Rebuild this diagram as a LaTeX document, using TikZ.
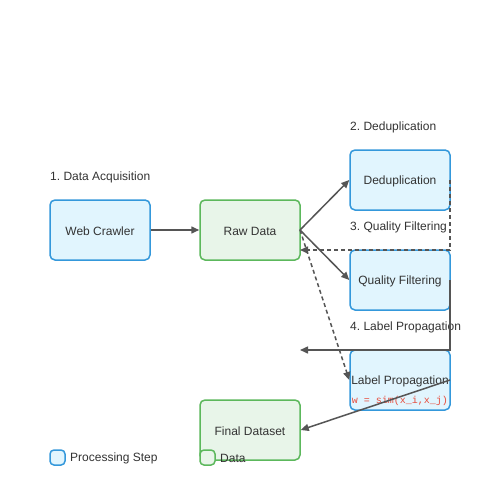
\documentclass[tikz,border=0pt]{standalone}
\usepackage{fontspec}
\setmainfont{Liberation Sans}
\setmonofont{Liberation Mono}
\usetikzlibrary{arrows.meta}
\frenchspacing
\definecolor{procfill}{HTML}{E1F5FE}
\definecolor{procdraw}{HTML}{3498DB}
\definecolor{datafill}{HTML}{E8F5E9}
\definecolor{datadraw}{HTML}{5CB85C}
\definecolor{edgecol}{HTML}{555555}
\definecolor{txtcol}{HTML}{333333}
\definecolor{codecol}{HTML}{E74C3C}
\tikzset{
  procbox/.style={draw=procdraw, fill=procfill, line width=1.5pt, rounded corners=5pt, minimum width=100pt, minimum height=60pt, inner sep=0pt, text=txtcol, font=\fontsize{12}{14}\selectfont},
  databox/.style={draw=datadraw, fill=datafill, line width=1.5pt, rounded corners=5pt, minimum width=100pt, minimum height=60pt, inner sep=0pt, text=txtcol, font=\fontsize{12}{14}\selectfont},
  boxtext/.style={text=txtcol, font=\fontsize{12}{14}\selectfont, inner sep=0pt},
  steplabel/.style={anchor=west, inner sep=0pt, text=txtcol, font=\fontsize{12}{14}\selectfont},
  conn/.style={draw=edgecol, line width=1.5pt, -{Triangle[length=8pt,width=7pt]}},
  dconn/.style={conn, dashed, dash pattern=on 4pt off 3pt},
  legproc/.style={draw=procdraw, fill=procfill, line width=1.5pt, rounded corners=4pt, minimum size=15pt, inner sep=0pt},
  legdata/.style={draw=datadraw, fill=datafill, line width=1.5pt, rounded corners=4pt, minimum size=15pt, inner sep=0pt},
}
\begin{document}
\begin{tikzpicture}[x=1pt,y=-1pt]
\useasboundingbox[fill=white] (0,0) rectangle (500,500);
\node[procbox] (crawler) at (100,230) {};
\node[boxtext] at (100,231) {Web Crawler};
\node[databox] (raw) at (250,230) {};
\node[boxtext] at (250,231) {Raw Data};
\node[procbox] (dedup) at (400,180) {};
\node[boxtext] at (400,181) {Deduplication};
\node[procbox] (qual) at (400,280) {};
\node[boxtext] at (400,281) {Quality Filtering};
\node[procbox] (label) at (400,380) {};
\node[boxtext] (labeltxt) at (400,381) {Label Propagation};
\node[text=codecol, font=\ttfamily\fontsize{10}{12}\selectfont, inner sep=0pt] (code) at (400,401) {w = sim(x\_i,x\_j)};
\node[databox] (final) at (250,430) {};
\node[boxtext] at (250,431) {Final Dataset};

\node[steplabel] (s1) at (50,177) {1. Data Acquisition};
\node[steplabel] (s2) at (350,127) {2. Deduplication};
\node[steplabel] (s3) at (350,227) {3. Quality Filtering};
\node[steplabel] (s4) at (350,327) {4. Label Propagation};

\coordinate (rawA) at (300,230);
\coordinate (rawB) at (300,250);
\coordinate (free) at (300,350);
\coordinate (dedupR) at (450,180);
\coordinate (qualR) at (450,280);
\coordinate (labelR) at (450,380);

\draw[conn] (crawler.east) -- (raw.west);
\draw[conn] (rawA) -- (dedup.west);
\draw[conn] (rawA) -- (qual.west);
\draw[dconn] (rawA) -- (label.west);
\draw[dconn] (dedupR) -- (450,250) -- (rawB);
\draw[conn] (qualR) -- (450,350) -- (free);
\draw[conn] (labelR) -- (final.east);

\node[legproc] (lp) at (57.5,457.5) {};
\node[steplabel] (lpt) at (70,458.5) {Processing Step};
\node[legdata] (ld) at (207.5,457.5) {};
\node[steplabel] (ldt) at (220,458.5) {Data};
\end{tikzpicture}
\end{document}
